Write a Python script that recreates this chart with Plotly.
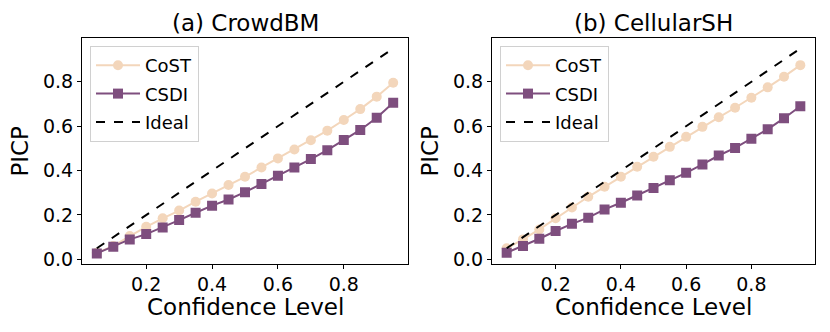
import plotly.graph_objects as go

# confidence levels on the x axis
conf = [0.05, 0.10, 0.15, 0.20, 0.25, 0.30, 0.35, 0.40, 0.45, 0.50,
        0.55, 0.60, 0.65, 0.70, 0.75, 0.80, 0.85, 0.90, 0.95]

# (a) CrowdBM
cost_a = [0.03, 0.06, 0.105, 0.147, 0.185, 0.22, 0.26, 0.297, 0.335, 0.372,
          0.414, 0.455, 0.495, 0.537, 0.58, 0.628, 0.677, 0.733, 0.796]
csdi_a = [0.027, 0.057, 0.09, 0.114, 0.144, 0.177, 0.21, 0.242, 0.27, 0.303,
          0.34, 0.377, 0.414, 0.452, 0.492, 0.538, 0.583, 0.638, 0.706]

# (b) CellularSH
cost_b = [0.05, 0.09, 0.135, 0.185, 0.234, 0.282, 0.327, 0.372, 0.417, 0.462,
          0.507, 0.552, 0.597, 0.64, 0.683, 0.728, 0.775, 0.823, 0.875]
csdi_b = [0.03, 0.06, 0.093, 0.128, 0.16, 0.188, 0.225, 0.255, 0.288, 0.322,
          0.357, 0.39, 0.428, 0.468, 0.502, 0.543, 0.586, 0.636, 0.69]

titles = ["(a) CrowdBM", "(b) CellularSH"]
xticks = [0.2, 0.4, 0.6, 0.8]
yticks = [0.0, 0.2, 0.4, 0.6, 0.8]

COST_C = "#f3d6bb"
CSDI_C = "#7e4e7e"
FONT = "DejaVu Sans"

# the page body has an 8px margin, so the figure is drawn 8px in from the corner
OFF = 8
W, H = 830 - OFF, 332 - OFF


def px(x):
    return (x - OFF) / W


def py(y):
    return 1 - (y - OFF) / H


fig = go.Figure()

panels = [
    dict(cost=cost_a, csdi=csdi_a, xa="x", ya="y", leg="legend"),
    dict(cost=cost_b, csdi=csdi_b, xa="x2", ya="y2", leg="legend2"),
]

for i, p in enumerate(panels):
    fig.add_trace(go.Scatter(x=conf, y=p["cost"], name="CoST", mode="lines+markers",
                             line=dict(color=COST_C, width=2),
                             marker=dict(symbol="circle", size=10, color=COST_C),
                             xaxis=p["xa"], yaxis=p["ya"], legend=p["leg"],
                             legendgroup="cost%d" % i))
    fig.add_trace(go.Scatter(x=conf, y=p["csdi"], name="CSDI", mode="lines+markers",
                             line=dict(color=CSDI_C, width=2),
                             marker=dict(symbol="square", size=10, color=CSDI_C),
                             xaxis=p["xa"], yaxis=p["ya"], legend=p["leg"],
                             legendgroup="csdi%d" % i))
    fig.add_trace(go.Scatter(x=conf, y=conf, name="Ideal", mode="lines",
                             line=dict(color="black", width=2, dash="dash"),
                             xaxis=p["xa"], yaxis=p["ya"], legend=p["leg"],
                             legendgroup="ideal%d" % i))

ydom = [py(263.5), py(37.7)]
xdoms = [[px(82), px(408)], [px(492), px(815)]]
yrange = [-0.0185, 0.9986]

axis_common = dict(showgrid=False, zeroline=False, showline=True, linecolor="black",
                   linewidth=1, mirror=True, ticks="outside", ticklen=4, tickcolor="black",
                   automargin=False,
                   tickfont=dict(family=FONT, size=19, color="black"))

legend_common = dict(font=dict(family=FONT, size=18, color="black"),
                     bgcolor="rgba(255,255,255,0.8)", bordercolor="#d0d0d0", borderwidth=1,
                     xanchor="left", yanchor="top", tracegroupgap=2, itemwidth=44)

fig.update_layout(
    template="none",
    width=W, height=H,
    margin=dict(l=0, r=0, t=0, b=0, autoexpand=False),
    plot_bgcolor="white", paper_bgcolor="white",
    font=dict(family=FONT, color="black"),
    xaxis=dict(domain=xdoms[0], range=[0.005, 0.995], tickvals=xticks,
               ticktext=["%.1f" % v for v in xticks], anchor="y", **axis_common),
    yaxis=dict(domain=ydom, range=yrange, tickvals=yticks,
               ticktext=["%.1f" % v for v in yticks], anchor="x", **axis_common),
    xaxis2=dict(domain=xdoms[1], range=[0.005, 0.995], tickvals=xticks,
                ticktext=["%.1f" % v for v in xticks], anchor="y2", **axis_common),
    yaxis2=dict(domain=ydom, range=yrange, tickvals=yticks,
                ticktext=["%.1f" % v for v in yticks], anchor="x2", **axis_common),
    legend=dict(x=px(90), y=py(46), **legend_common),
    legend2=dict(x=px(500), y=py(46), **legend_common),
    showlegend=True,
)

# panel titles and axis labels
for i, t in enumerate(titles):
    cx = (xdoms[i][0] + xdoms[i][1]) / 2
    fig.add_annotation(text=t, x=cx, y=1.0, xref="paper", yref="paper",
                       xanchor="center", yanchor="top", showarrow=False,
                       font=dict(family=FONT, size=23, color="black"))
    fig.add_annotation(text="Confidence Level", x=cx, y=py(307), xref="paper", yref="paper",
                       xanchor="center", yanchor="middle", showarrow=False,
                       font=dict(family=FONT, size=23, color="black"))
    fig.add_annotation(text="PICP", x=xdoms[i][0] - 62 / W, y=(ydom[0] + ydom[1]) / 2,
                       xref="paper", yref="paper", xanchor="center", yanchor="middle",
                       textangle=-90, showarrow=False,
                       font=dict(family=FONT, size=23, color="black"))

fig.write_html("out.html")
